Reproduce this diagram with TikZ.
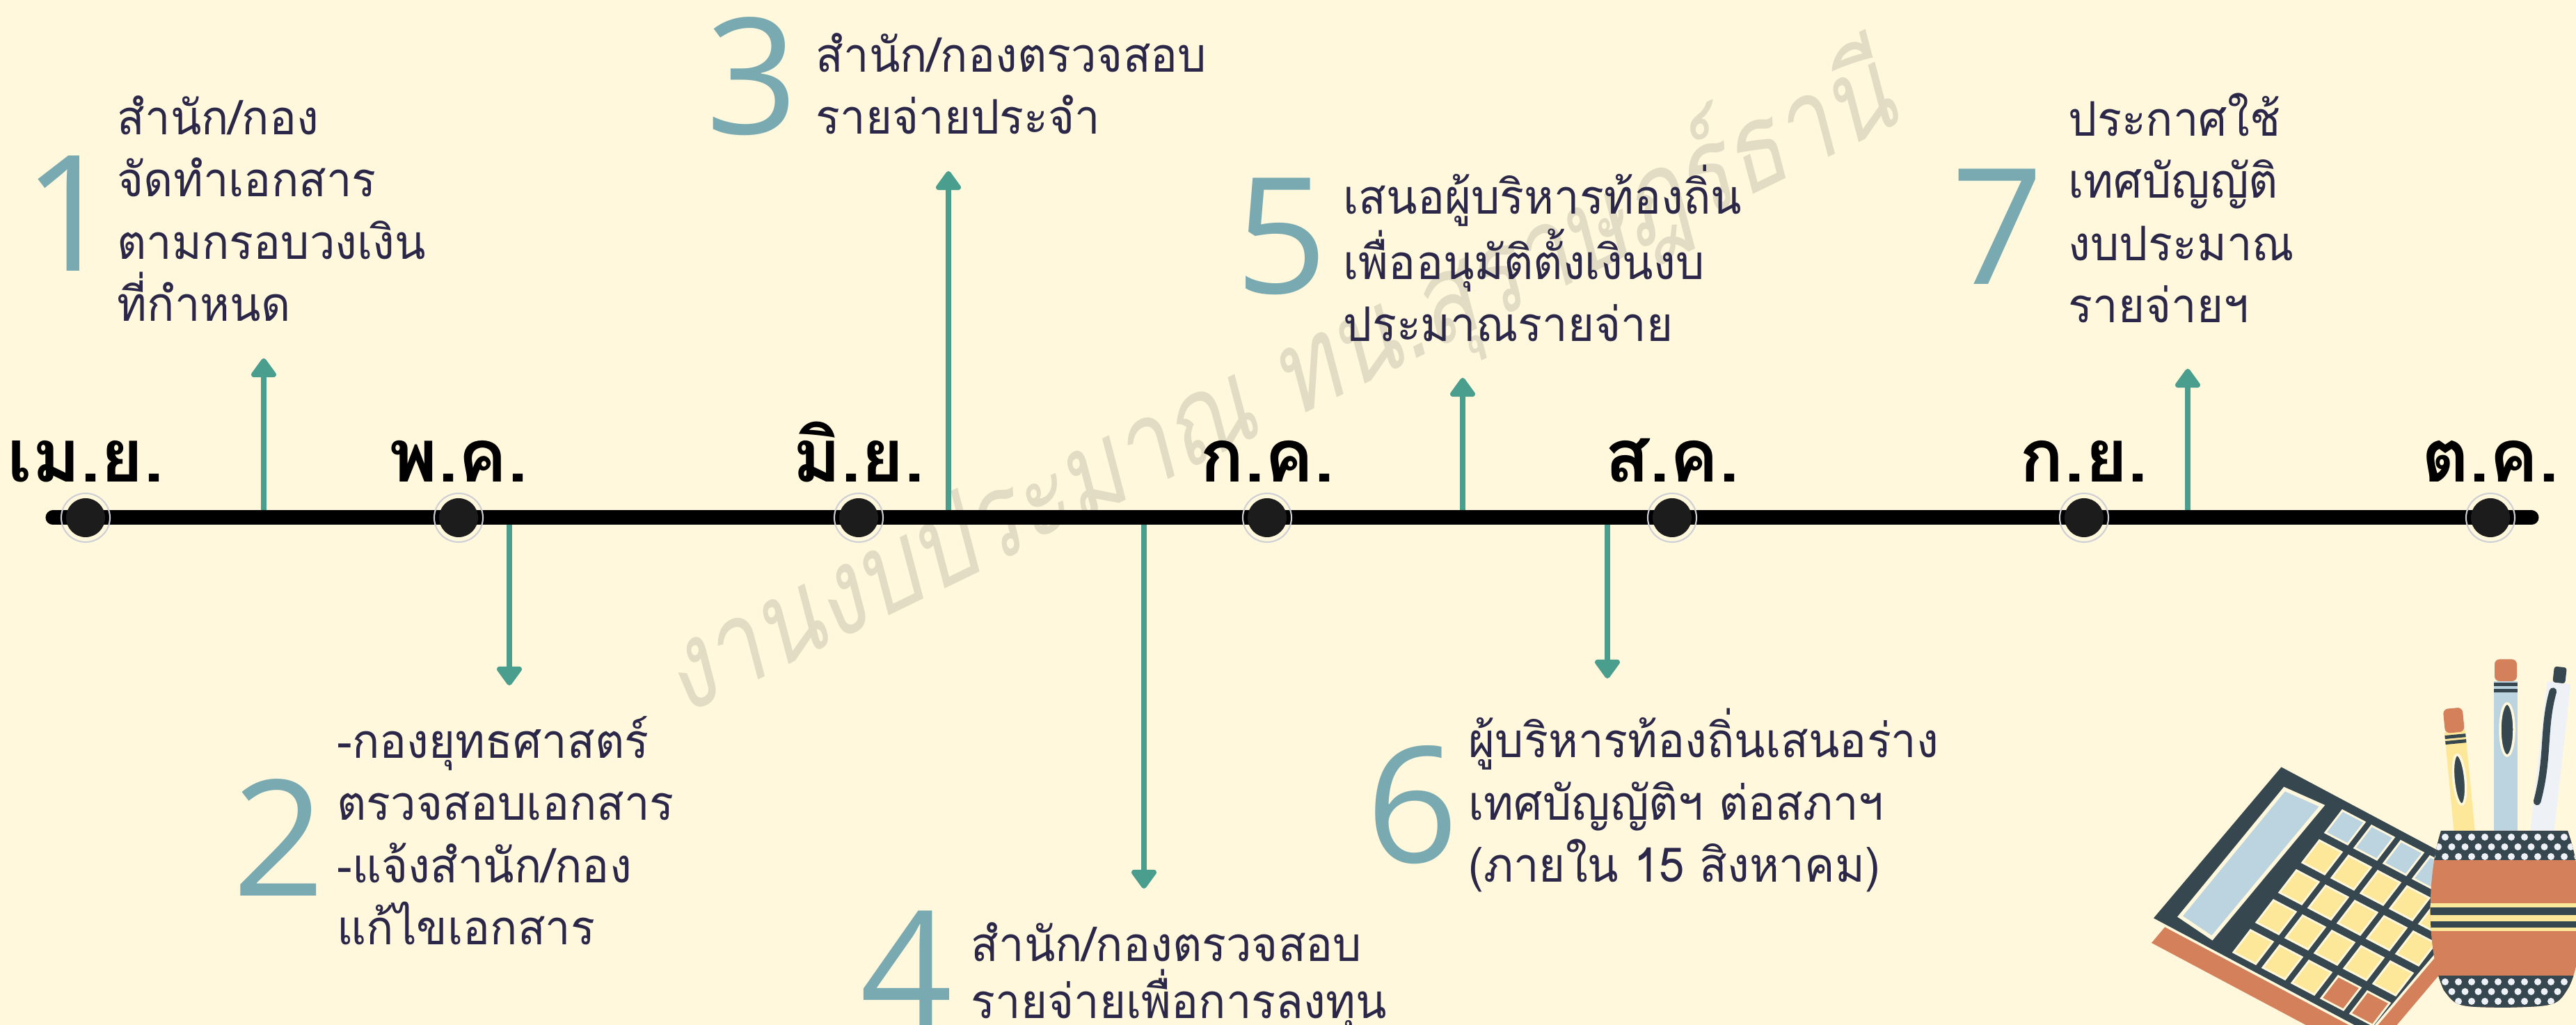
\documentclass[tikz,border=0pt]{standalone}
\usepackage{fontspec}
\usetikzlibrary{arrows.meta,positioning,calc}
\newfontfamily\thaifont[Script=Thai,FakeStretch=0.95]{Loma}
\newfontfamily\monthfont[Script=Thai]{Loma}
\newfontfamily\wmfont[Script=Thai,FakeSlant=0.2,FakeStretch=0.82]{Loma}
\newfontfamily\numfont{Open Sans}

\definecolor{paper}{HTML}{FFF8DC}
\definecolor{stepteal}{HTML}{4A9E8E}
\definecolor{numblue}{HTML}{7AAAB1}
\definecolor{ink}{HTML}{2B2749}
\definecolor{dotgray}{HTML}{1C1C1C}
\definecolor{ringgray}{HTML}{CFCFD6}
\definecolor{wmtan}{HTML}{E3DCC4}
\definecolor{slate}{HTML}{37474F}
\definecolor{rust}{HTML}{D4805A}
\definecolor{butter}{HTML}{FDE89A}
\definecolor{skyblue}{HTML}{BCD4DF}
\definecolor{penwhite}{HTML}{EEF2F7}

\tikzset{
  milestone/.style={circle,fill=dotgray,inner sep=0pt,minimum size=0.56cm},
  ring/.style={draw=ringgray,line width=0.6pt},
  monthlabel/.style={font=\monthfont\bfseries\fontsize{30}{30}\selectfont,inner sep=0pt},
  stepnum/.style={font=\numfont\fontsize{66}{66}\selectfont,text=numblue,inner sep=0pt},
  steptext/.style={font=\thaifont\fontsize{19.5}{25.5}\selectfont,text=ink,align=left,inner sep=0pt,anchor=base west},
  steparrow/.style={draw=stepteal,line width=2.5pt,-{Triangle[width=0.41cm,length=0.3cm,round]}},
  watermark/.style={font=\wmfont\fontsize{48}{48}\selectfont,text=wmtan,inner sep=0pt},
}

% outline of the pencil cup
\newcommand{\cupshape}{(35.08,2.79) -- (36.9,2.79) .. controls (37.15,2.1) and (37.15,1.0) .. (36.92,0.55) .. controls (36.75,0.27) .. (36.0,0.25) .. controls (35.3,0.26) .. (35.12,0.5) .. controls (34.88,1.0) and (34.86,2.1) .. (35.08,2.79) -- cycle}

\begin{document}
\begin{tikzpicture}
\useasboundingbox[fill=paper] (0,0) rectangle (37.02,14.73);

% watermark behind everything
\node[watermark,rotate=26,anchor=base] (wm) at (18.58,8.71) {งานงบประมาณ ทน.สุราษฎร์ธานี};

% arrows from the time line to each step
\coordinate (s1) at (3.79,7.29);  \coordinate (s1tip) at (3.79,9.58);
\coordinate (s2) at (7.32,7.29);  \coordinate (s2tip) at (7.32,4.88);
\coordinate (s3) at (13.63,7.29); \coordinate (s3tip) at (13.63,12.27);
\coordinate (s4) at (16.44,7.29); \coordinate (s4tip) at (16.44,1.96);
\coordinate (s5) at (21.02,7.29); \coordinate (s5tip) at (21.02,9.30);
\coordinate (s6) at (23.10,7.29); \coordinate (s6tip) at (23.10,4.98);
\coordinate (s7) at (31.44,7.29); \coordinate (s7tip) at (31.44,9.43);
\foreach \s in {1,...,7}
  \draw[steparrow] (s\s) -- (s\s tip);

% time line
\coordinate (tl-start) at (0.76,7.29);
\coordinate (tl-end) at (36.38,7.29);
\draw[line width=0.21cm,line cap=round] (tl-start) -- (tl-end);

% months
\foreach \x/\m/\lab in {1.23/apr/เม.ย., 6.59/may/พ.ค., 12.34/jun/มิ.ย., 18.21/jul/ก.ค., 24.03/aug/ส.ค., 29.95/sep/ก.ย., 35.79/oct/ต.ค.}{
  \draw[ring] (\x,7.29) circle (0.35);
  \node[milestone] (\m) at (\x,7.29) {};
  \node[monthlabel,anchor=base] (\m-lab) at ([yshift=0.51cm]\m.center) {\lab};
}

% steps above the line (text anchored on its last line)
\node[stepnum] (n1) at (1.00,11.66) {1};
\node[steptext] (t1) at (1.68,10.11) {สำนัก/กอง\\จัดทำเอกสาร\\ตามกรอบวงเงิน\\ที่กำหนด};
\node[stepnum] (n3) at (10.81,13.63) {3};
\node[steptext] (t3) at (11.72,12.80) {สำนัก/กองตรวจสอบ\\รายจ่ายประจำ};
\node[stepnum] (n5) at (18.42,11.33) {5};
\node[steptext] (t5) at (19.30,9.82) {เสนอผู้บริหารท้องถิ่น\\เพื่ออนุมัติตั้งเงินงบ\\ประมาณรายจ่าย};
\node[stepnum] (n7) at (28.71,11.47) {7};
\node[steptext] (t7) at (29.72,10.09) {ประกาศใช้\\เทศบัญญัติ\\งบประมาณ\\รายจ่ายฯ};

% steps below the line
\node[stepnum] (n2) at (4.01,2.69) {2};
\node[steptext] (t2) at (4.84,1.15) {-กองยุทธศาสตร์\\ตรวจสอบเอกสาร\\-แจ้งสำนัก/กอง\\แก้ไขเอกสาร};
\node[stepnum] (n4) at (13.03,0.81) {4};
\node[steptext,font=\thaifont\fontsize{19.5}{23.6}\selectfont] (t4) at (13.95,0.09) {สำนัก/กองตรวจสอบ\\รายจ่ายเพื่อการลงทุน};
\node[stepnum] (n6) at (20.30,3.16) {6};
\node[steptext] (t6) at (21.10,2.05) {ผู้บริหารท้องถิ่นเสนอร่าง\\เทศบัญญัติฯ ต่อสภาฯ\\(ภายใน 15 สิงหาคม)};

% calculator
\fill[rust] (32.78,3.38) -- (30.92,1.18) -- (34.04,-0.48) -- (35.9,1.72) -- cycle;
\filldraw[fill=slate,draw=paper,line width=1pt] (32.78,3.73) -- (30.92,1.53) -- (34.04,-0.13) -- (35.9,2.07) -- cycle;
\filldraw[fill=skyblue,draw=paper,line width=1.5pt] (32.83,3.39) -- (33.37,3.15) -- (31.79,1.25) -- (31.33,1.56) -- cycle;
\begin{scope}[cm={0.42,-0.22,-0.33,-0.43,(33.70,2.84)},every path/.style={draw=paper,line width=0.8pt}]
  \foreach \j in {0,...,4}
    \filldraw[fill=skyblue] (\j-0.38,-0.37) rectangle (\j+0.38,0.37);
  \foreach \i in {1,2,3}
    \foreach \j in {0,...,4}
      \filldraw[fill=butter] (\j-0.38,\i-0.37) rectangle (\j+0.38,\i+0.37);
  \foreach \j in {0,1,2}
    \filldraw[fill=butter] (\j-0.38,3.63) rectangle (\j+0.38,4.37);
  \foreach \j in {3,4}
    \filldraw[fill=rust] (\j-0.38,3.63) rectangle (\j+0.38,4.37);
\end{scope}

% yellow crayon
\begin{scope}[shift={(35.42,2.75)},rotate=5.5]
  \fill[butter] (-0.15,0) rectangle (0.15,1.48);
  \fill[rust,rounded corners=2pt] (-0.14,1.46) rectangle (0.14,1.81);
  \fill[slate] (-0.15,1.30) rectangle (0.15,1.35);
  \fill[slate] (-0.15,1.38) rectangle (0.15,1.43);
  \filldraw[fill=slate,draw=paper,line width=1pt] (0,0.78) ellipse (0.085 and 0.36);
\end{scope}
% blue pen
\begin{scope}[shift={(36.01,2.75)}]
  \fill[skyblue] (-0.17,0) rectangle (0.17,2.19);
  \fill[rust,rounded corners=2pt] (-0.16,2.19) rectangle (0.16,2.505);
  \fill[slate] (-0.17,2.12) rectangle (0.17,2.17);
  \fill[slate] (-0.17,2.03) rectangle (0.17,2.08);
  \filldraw[fill=slate,draw=paper,line width=1pt] (0.02,1.495) ellipse (0.1 and 0.375);
\end{scope}
% white pen
\begin{scope}[shift={(36.53,2.75)},rotate=-6.4]
  \fill[penwhite] (-0.17,0) rectangle (0.17,2.18);
  \fill[slate,rounded corners=1pt] (-0.09,2.18) rectangle (0.09,2.41);
  \draw[slate,line width=3pt,line cap=round] (-0.07,2.05) .. controls (-0.16,1.5) and (-0.02,1.1) .. (-0.12,0.45);
\end{scope}

% pencil cup
\begin{scope}
  \clip \cupshape;
  \fill[rust] (34.8,0) rectangle (37.2,3);
  \fill[slate] (34.8,2.37) rectangle (37.2,3);
  \fill[slate] (34.8,0) rectangle (37.2,0.705);
  \fill[butter] (34.8,1.345) rectangle (37.2,1.75);
  \fill[slate] (34.8,1.58) rectangle (37.2,1.69);
  \fill[slate] (34.8,1.40) rectangle (37.2,1.49);
  \foreach \r in {0,1,2}
    \foreach \c in {0,...,11}{
      \fill[penwhite] ({34.95+0.19*\c+0.095*mod(\r,2)},{2.70-0.14*\r}) circle (0.05);
      \fill[penwhite] ({34.95+0.19*\c+0.095*mod(\r,2)},{0.62-0.14*\r}) circle (0.05);
    }
\end{scope}
\end{tikzpicture}
\end{document}
